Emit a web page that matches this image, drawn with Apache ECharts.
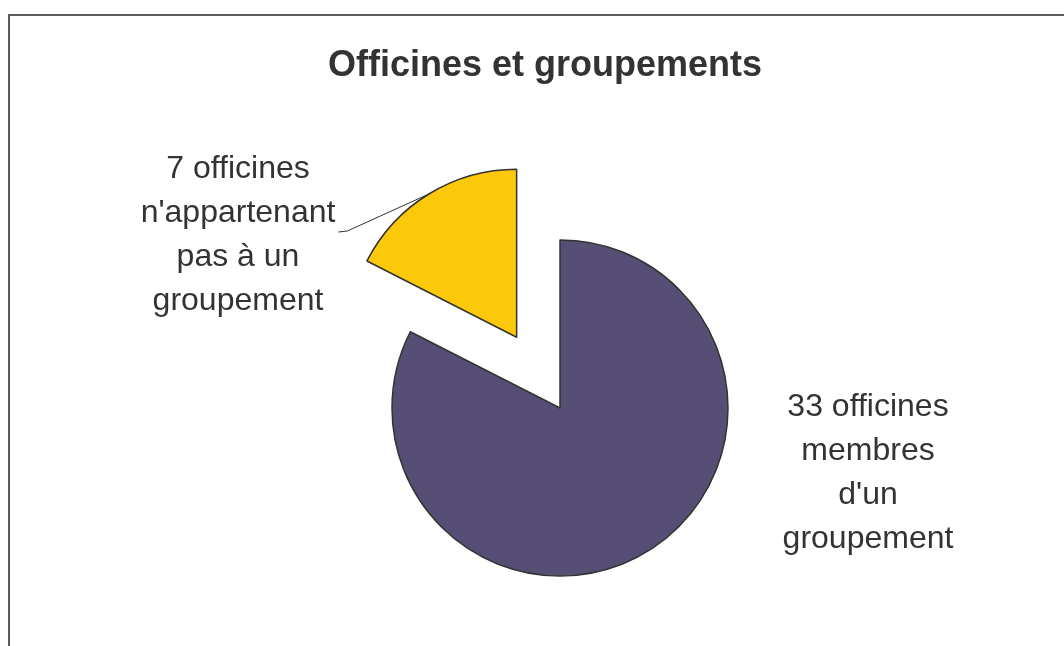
<!DOCTYPE html>
<html>
<head>
<meta charset="utf-8">
<script src="https://cdn.jsdelivr.net/npm/echarts@6/dist/echarts.min.js"></script>
<style>
html, body { margin: 0; padding: 0; background: #fff; }
#chart { width: 1064px; height: 646px; }
</style>
</head>
<body>
<div id="chart"></div>
<script>
// données du graphique
var categories = ["33 officines\nmembres\nd'un\ngroupement", "7 officines\nn'appartenant\npas à un\ngroupement"];
var values = [33, 7];
var colors = ['#564e74', '#fcc90a'];

var myChart = echarts.init(document.getElementById('chart'));

var center = [560, 408];
var radius = 168;
var explode = 83; // décalage de la part détachée (index 1)

// angle milieu de la part détachée, compté depuis midi dans le sens horaire
var total = values[0] + values[1];
var midAngle = (values[0] + values[1] / 2) / total * 2 * Math.PI;
var center2 = [center[0] + Math.sin(midAngle) * explode, center[1] - Math.cos(midAngle) * explode];

var fontFam = 'Liberation Sans, Arial, Helvetica, sans-serif';

// une série par part : la part visible, l'autre transparente
function buildData(visibleIndex) {
    return categories.map(function (name, i) {
        var show = i === visibleIndex;
        return {
            name: name,
            value: values[i],
            itemStyle: show ? { color: colors[i], borderColor: '#333', borderWidth: 1.5 }
                            : { color: 'rgba(0,0,0,0)', borderWidth: 0 },
            label: { show: show },
            labelLine: { show: show && i === 1 }
        };
    });
}

var labelStyle = {
    show: true,
    position: 'outside',
    fontFamily: fontFam,
    fontSize: 32,
    lineHeight: 44,
    color: '#333',
    align: 'center'
};

var option = {
    backgroundColor: '#fff',
    animation: false,
    title: {
        text: 'Officines et groupements',
        left: 540,
        top: 43,
        textAlign: 'center',
        textStyle: {
            fontFamily: fontFam,
            fontSize: 36,
            fontWeight: 'bold',
            color: '#333'
        }
    },
    graphic: [{
        type: 'rect',
        shape: { x: 9, y: 15, width: 1200, height: 800 },
        style: { fill: null, stroke: '#5a5a5a', lineWidth: 2 },
        silent: true
    }],
    series: [{
        type: 'pie',
        center: center,
        radius: radius,
        startAngle: 90,
        clockwise: true,
        emphasis: { disabled: true },
        label: labelStyle,
        labelLine: { show: false },
        labelLayout: function (params) {
            return { x: 868, y: 473, align: 'center', verticalAlign: 'middle' };
        },
        data: buildData(0)
    }, {
        type: 'pie',
        center: center2,
        radius: radius,
        startAngle: 90,
        clockwise: true,
        emphasis: { disabled: true },
        label: labelStyle,
        labelLine: {
            show: true,
            length: 20,
            length2: 10,
            lineStyle: { color: '#333', width: 1 }
        },
        labelLayout: function (params) {
            var x = 238, y = 235;
            var right = x + params.labelRect.width / 2 + 3;
            var pts = params.labelLinePoints;
            var res = { x: x, y: y, align: 'center', verticalAlign: 'middle' };
            if (pts) {
                res.labelLinePoints = [pts[0], [right + 9, y - 4], [right, y - 3]];
            }
            return res;
        },
        data: buildData(1)
    }]
};

myChart.setOption(option);
</script>
</body>
</html>
